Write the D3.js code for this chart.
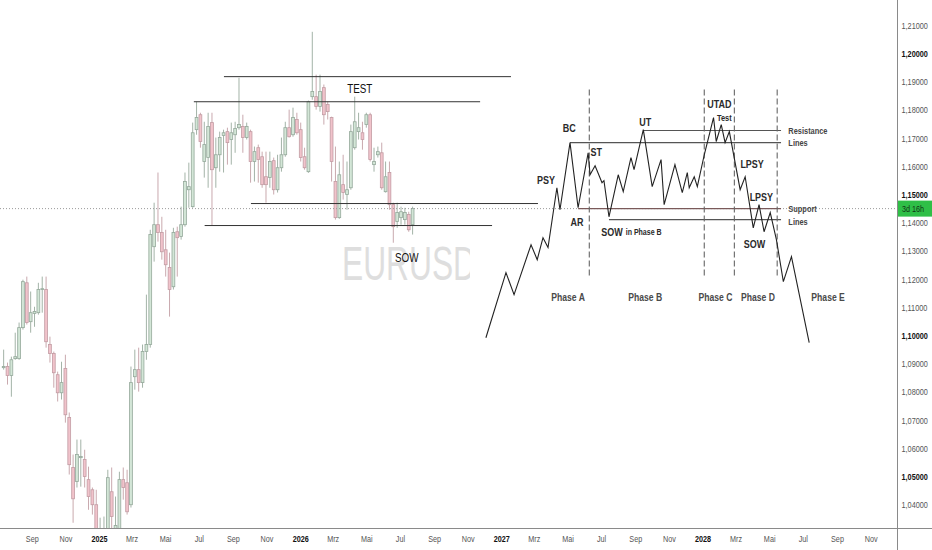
<!DOCTYPE html>
<html>
<head>
<meta charset="utf-8">
<script src="https://cdn.jsdelivr.net/npm/d3@7"></script>
<style>
  body { margin: 0; background: #fff; }
  svg { display: block; }
</style>
</head>
<body>
<div id="chart"></div>
<script>
// EURUSD weekly candles, first bar date
const firstBar = new Date(2024, 6, 12);

const opens = [
  1.0887, 1.0891, 1.0859, 1.0919, 1.0919, 1.1029, 1.1188, 1.1050, 1.1079, 1.1082,
  1.1164, 1.1164, 1.0969, 1.0937, 1.0862, 1.0798, 1.0884, 1.0710, 1.0533, 1.0483,
  1.0568, 1.0561, 1.0490, 1.0454, 1.0401, 1.0242, 1.0277, 1.0277, 1.0447, 1.0306,
  1.0295, 1.0490, 1.0479, 1.0401, 1.0855, 1.0880, 1.0834, 1.0944, 1.0969, 1.1316,
  1.1394, 1.1366, 1.1305, 1.1242, 1.1174, 1.1369, 1.1352, 1.1394, 1.1518, 1.1458,
  1.1731, 1.1784, 1.1618, 1.1632, 1.1756, 1.1596, 1.1642, 1.1710, 1.1724, 1.1696,
  1.1713, 1.1738, 1.1742, 1.1703, 1.1724, 1.1618, 1.1667, 1.1635, 1.1564, 1.1561,
  1.1621, 1.1518, 1.1596, 1.1642, 1.1738, 1.1713, 1.1767, 1.1731, 1.1635, 1.1582,
  1.1848, 1.1848, 1.1813, 1.1880, 1.1820, 1.1774, 1.1547, 1.1419, 1.1536, 1.1501,
  1.1525, 1.1667, 1.1724, 1.1720, 1.1749, 1.1784, 1.1607, 1.1642, 1.1649, 1.1511,
  1.1579, 1.1465, 1.1405, 1.1419, 1.1412, 1.1430, 1.1394
];
const highs = [
  1.0951, 1.0905, 1.0926, 1.1011, 1.1047, 1.1199, 1.1210, 1.1157, 1.1103, 1.1188,
  1.1210, 1.1210, 1.0997, 1.0944, 1.0873, 1.0908, 1.0933, 1.0728, 1.0579, 1.0632,
  1.0632, 1.0596, 1.0536, 1.0462, 1.0454, 1.0355, 1.0359, 1.0525, 1.0533, 1.0430,
  1.0518, 1.0533, 1.0525, 1.0891, 1.0951, 1.0958, 1.0969, 1.1146, 1.1376, 1.1472,
  1.1579, 1.1422, 1.1376, 1.1295, 1.1383, 1.1387, 1.1458, 1.1579, 1.1614, 1.1756,
  1.1830, 1.1791, 1.1759, 1.1791, 1.1791, 1.1703, 1.1724, 1.1731, 1.1738, 1.1756,
  1.1759, 1.1915, 1.1784, 1.1756, 1.1731, 1.1671, 1.1678, 1.1653, 1.1653, 1.1653,
  1.1632, 1.1642, 1.1703, 1.1759, 1.1802, 1.1809, 1.1791, 1.1756, 1.1667, 1.1834,
  1.2078, 1.1926, 1.1926, 1.1891, 1.1830, 1.1777, 1.1671, 1.1618, 1.1642, 1.1618,
  1.1749, 1.1848, 1.1791, 1.1759, 1.1791, 1.1791, 1.1667, 1.1671, 1.1685, 1.1618,
  1.1618, 1.1472, 1.1472, 1.1458, 1.1454, 1.1440, 1.1458
];
const lows = [
  1.0880, 1.0827, 1.0784, 1.0915, 1.0915, 1.1022, 1.1040, 1.1011, 1.1032, 1.1075,
  1.1082, 1.0958, 1.0905, 1.0816, 1.0767, 1.0774, 1.0692, 1.0508, 1.0337, 1.0462,
  1.0465, 1.0462, 1.0383, 1.0366, 1.0242, 1.0224, 1.0224, 1.0259, 1.0313, 1.0277,
  1.0277, 1.0419, 1.0366, 1.0391, 1.0809, 1.0802, 1.0816, 1.0915, 1.0958, 1.1263,
  1.1334, 1.1270, 1.1210, 1.1068, 1.1164, 1.1210, 1.1341, 1.1387, 1.1454, 1.1454,
  1.1713, 1.1667, 1.1561, 1.1525, 1.1391, 1.1525, 1.1582, 1.1579, 1.1607, 1.1607,
  1.1649, 1.1731, 1.1649, 1.1696, 1.1543, 1.1547, 1.1543, 1.1525, 1.1472, 1.1525,
  1.1501, 1.1508, 1.1582, 1.1635, 1.1703, 1.1706, 1.1713, 1.1618, 1.1589, 1.1578,
  1.1837, 1.1802, 1.1795, 1.1749, 1.1767, 1.1547, 1.1412, 1.1415, 1.1483, 1.1447,
  1.1518, 1.1660, 1.1696, 1.1660, 1.1738, 1.1618, 1.1582, 1.1632, 1.1518, 1.1508,
  1.1447, 1.1330, 1.1383, 1.1394, 1.1394, 1.1369, 1.1359
];
const closes = [
  1.0891, 1.0859, 1.0915, 1.0926, 1.1029, 1.1192, 1.1047, 1.1082, 1.1086, 1.1164,
  1.1167, 1.0979, 1.0937, 1.0869, 1.0798, 1.0834, 1.0720, 1.0543, 1.0422, 1.0579,
  1.0572, 1.0501, 1.0430, 1.0401, 1.0259, 1.0295, 1.0306, 1.0497, 1.0359, 1.0327,
  1.0490, 1.0462, 1.0376, 1.0834, 1.0880, 1.0834, 1.0944, 1.0969, 1.1359, 1.1394,
  1.1366, 1.1298, 1.1252, 1.1164, 1.1366, 1.1348, 1.1394, 1.1547, 1.1529, 1.1720,
  1.1774, 1.1689, 1.1678, 1.1742, 1.1589, 1.1642, 1.1703, 1.1720, 1.1685, 1.1720,
  1.1735, 1.1749, 1.1703, 1.1742, 1.1618, 1.1653, 1.1625, 1.1536, 1.1536, 1.1618,
  1.1518, 1.1596, 1.1642, 1.1738, 1.1706, 1.1774, 1.1720, 1.1632, 1.1596, 1.1830,
  1.1866, 1.1813, 1.1866, 1.1784, 1.1795, 1.1618, 1.1419, 1.1571, 1.1508, 1.1518,
  1.1724, 1.1759, 1.1738, 1.1696, 1.1784, 1.1625, 1.1618, 1.1653, 1.1525, 1.1564,
  1.1465, 1.1387, 1.1437, 1.1440, 1.1437, 1.1376, 1.1451
];

const lastPrice = 1.1451;
const countdown = "3d 16h";
const priceTicks = [1.04, 1.05, 1.06, 1.07, 1.08, 1.09, 1.10, 1.11, 1.12, 1.13,
                    1.14, 1.15, 1.16, 1.17, 1.18, 1.19, 1.20, 1.21];
const boldTicks = [1.05, 1.10, 1.15, 1.20];
const monthAbbr = ["Jan", "Feb", "Mrz", "Apr", "Mai", "Jun", "Jul", "Aug", "Sep", "Okt", "Nov", "Dez"];

// drawn levels on the real chart: [startBar, endBar, price]
const levels = [
  [57.1, 131.5, 1.1919],
  [49.3, 123.5, 1.1830],
  [64.1, 138.5, 1.1469],
  [52.1, 126.6, 1.1391]
];
// chart notes: [bar, price, text]
const notes = [
  [92.3, 1.1876, "TEST"],
  [104.5, 1.1277, "SOW"]
];

// Wyckoff distribution schematic, [bar, price]
const wyckoffPath = [
  [125.0, 1.0993], [130.2, 1.1224], [132.3, 1.1146], [136.7, 1.1323], [138.3, 1.1270],
  [139.8, 1.1348], [141.1, 1.1313], [143.4, 1.1525], [144.2, 1.1447], [146.8, 1.1685],
  [148.9, 1.1454], [151.5, 1.1649], [152.0, 1.1571], [153.3, 1.1603], [155.1, 1.1543],
  [155.6, 1.1550], [156.9, 1.1422], [159.3, 1.1571], [160.6, 1.1511], [162.6, 1.1632],
  [163.4, 1.1589], [165.8, 1.1731], [168.1, 1.1529], [170.4, 1.1625], [171.2, 1.1465],
  [174.0, 1.1607], [175.9, 1.1508], [177.2, 1.1579], [177.7, 1.1525], [179.0, 1.1564],
  [179.8, 1.1529], [181.6, 1.1642], [184.0, 1.1774], [184.7, 1.1689], [186.0, 1.1749],
  [187.0, 1.1685], [188.1, 1.1724], [190.9, 1.1518], [192.2, 1.1564], [194.3, 1.1383],
  [195.8, 1.1465], [197.1, 1.1369], [198.7, 1.1437], [200.3, 1.1341], [202.1, 1.1192],
  [204.2, 1.1281], [208.8, 1.0976]
];
// range lines: [startBar, endBar, price, kind]
const wyckoffLevels = [
  [165.8, 201.5, 1.1728, "res"],
  [146.8, 201.5, 1.1685, "res"],
  [148.9, 201.5, 1.1451, "sup"],
  [156.9, 201.5, 1.1412, "res"]
];
const phaseBars = [151.8, 181.6, 189.4, 200.5];
const phaseTop = 1.1873, phaseBottom = 1.1206;
// labels: [bar, price, text, size]
const wyckoffLabels = [
  [140.6, 1.1554, "PSY", 11.5], [146.6, 1.1738, "BC", 11.5], [153.6, 1.1653, "ST", 11.5],
  [148.6, 1.1405, "AR", 11.5], [166.3, 1.1759, "UT", 11.5], [185.5, 1.1823, "UTAD", 11.5],
  [186.8, 1.1774, "Test", 9.5], [194.0, 1.1610, "LPSY", 11.5], [196.4, 1.1493, "LPSY", 11.5],
  [194.6, 1.1327, "SOW", 11.5]
];
const sideLabels = [
  [203.4, 1.1728, "Resistance"], [203.4, 1.1685, "Lines"],
  [203.4, 1.1451, "Support"], [203.4, 1.1405, "Lines"]
];
const phaseLabels = [
  [146.3, "Phase A"], [166.3, "Phase B"], [184.5, "Phase C"], [195.5, "Phase D"], [213.7, "Phase E"]
];
const phaseLabelPrice = 1.1135;

const width = 932, height = 550;
const plotRight = 897, plotBottom = 528;
const WEEK = 7 * 24 * 3600 * 1000;
const barDate = b => new Date(firstBar.getTime() + b * WEEK);

const x = d3.scaleTime()
  .domain([new Date(2025, 0, 1), new Date(2028, 0, 1)])
  .range([99, 702.5]);
const y = d3.scaleLinear()
  .domain([1.04, 1.21])
  .range([505, 25.6]);
const bx = b => x(barDate(b));

const sans = '"Liberation Sans", Arial, sans-serif';

// squeeze a text horizontally (no narrow face installed)
function condense(sel, k) {
  sel.each(function () {
    const w = this.getComputedTextLength();
    d3.select(this).attr("textLength", w * k).attr("lengthAdjust", "spacingAndGlyphs");
  });
}

const svg = d3.select("#chart").append("svg")
  .attr("width", width)
  .attr("height", height);

svg.append("rect").attr("width", width).attr("height", height).attr("fill", "#fff");

const defs = svg.append("defs");
defs.append("clipPath").attr("id", "plot")
  .append("rect").attr("width", plotRight).attr("height", plotBottom);
defs.append("clipPath").attr("id", "wm")
  .append("rect").attr("width", 470).attr("height", plotBottom);

const plot = svg.append("g").attr("clip-path", "url(#plot)");

// watermark (partly hidden behind the pasted schematic)
plot.append("text")
  .attr("clip-path", "url(#wm)")
  .attr("x", 342).attr("y", 280)
  .attr("textLength", 134).attr("lengthAdjust", "spacingAndGlyphs")
  .attr("font-family", sans)
  .attr("font-size", 49)
  .attr("fill", "#dedede")
  .text("EURUSD");

// candles
const candles = opens.map((o, i) => ({
  date: barDate(i), open: o, high: highs[i], low: lows[i], close: closes[i]
}));
const up = d => d.close >= d.open;

const cg = plot.append("g").selectAll("g").data(candles).join("g");
cg.append("line")
  .attr("x1", d => x(d.date)).attr("x2", d => x(d.date))
  .attr("y1", d => y(d.high)).attr("y2", d => y(d.low))
  .attr("stroke", d => up(d) ? "#a3b3a7" : "#c9a9ae")
  .attr("stroke-width", 1);
cg.append("rect")
  .attr("x", d => x(d.date) - 1.4)
  .attr("width", 2.8)
  .attr("y", d => y(Math.max(d.open, d.close)))
  .attr("height", d => Math.max(0.8, Math.abs(y(d.open) - y(d.close))))
  .attr("fill", d => up(d) ? "#d3e6d7" : "#f1c3cb")
  .attr("stroke", d => up(d) ? "#95a99b" : "#c29ca3")
  .attr("stroke-width", 0.8);

// last price line
plot.append("line")
  .attr("x1", 0).attr("x2", plotRight)
  .attr("y1", y(lastPrice)).attr("y2", y(lastPrice))
  .attr("stroke", "#9a9a9a").attr("stroke-dasharray", "1,2");

// levels drawn on the chart
plot.append("g").selectAll("line").data(levels).join("line")
  .attr("x1", d => bx(d[0])).attr("x2", d => bx(d[1]))
  .attr("y1", d => y(d[2])).attr("y2", d => y(d[2]))
  .attr("stroke", "#333").attr("stroke-width", 1);

plot.append("g").selectAll("text").data(notes).join("text")
  .attr("x", d => bx(d[0])).attr("y", d => y(d[1]))
  .attr("dy", "0.35em")
  .attr("text-anchor", "middle")
  .attr("font-family", sans)
  .attr("font-size", 12)
  .attr("fill", "#111")
  .text(d => d[2])
  .call(condense, 0.82);

// schematic
const wg = plot.append("g");
wg.selectAll("line.lvl").data(wyckoffLevels).join("line")
  .attr("class", "lvl")
  .attr("x1", d => bx(d[0])).attr("x2", d => bx(d[1]))
  .attr("y1", d => y(d[2])).attr("y2", d => y(d[2]))
  .attr("stroke", d => d[3] === "sup" ? "#7a5a5a" : "#555")
  .attr("stroke-width", 1.2);
wg.selectAll("line.ph").data(phaseBars).join("line")
  .attr("class", "ph")
  .attr("x1", d => bx(d)).attr("x2", d => bx(d))
  .attr("y1", y(phaseTop)).attr("y2", y(phaseBottom))
  .attr("stroke", "#666").attr("stroke-width", 1.1)
  .attr("stroke-dasharray", "6,3");
wg.append("path")
  .datum(wyckoffPath)
  .attr("d", d3.line().x(d => bx(d[0])).y(d => y(d[1])))
  .attr("fill", "none")
  .attr("stroke", "#222")
  .attr("stroke-width", 1.1);

wg.selectAll("text.lbl").data(wyckoffLabels).join("text")
  .attr("class", "lbl")
  .attr("x", d => bx(d[0])).attr("y", d => y(d[1]))
  .attr("dy", "0.35em").attr("text-anchor", "middle")
  .attr("font-family", sans).attr("font-weight", "bold")
  .attr("font-size", d => d[3])
  .attr("fill", "#2a2a2a")
  .text(d => d[2])
  .call(condense, 0.78);

const sowX = bx(154.9), sowY = y(1.1369);
const sowMain = wg.append("text")
  .attr("x", sowX).attr("y", sowY).attr("dy", "0.35em")
  .attr("font-family", sans).attr("font-weight", "bold")
  .attr("font-size", 11.5).attr("fill", "#2a2a2a")
  .text("SOW")
  .call(condense, 0.78);
wg.append("text")
  .attr("x", sowX + +sowMain.attr("textLength") + 3).attr("y", sowY).attr("dy", "0.35em")
  .attr("font-family", sans).attr("font-weight", "bold")
  .attr("font-size", 9).attr("fill", "#2a2a2a")
  .text("in Phase B")
  .call(condense, 0.78);

wg.selectAll("text.side").data(sideLabels).join("text")
  .attr("class", "side")
  .attr("x", d => bx(d[0])).attr("y", d => y(d[1]))
  .attr("dy", "0.35em")
  .attr("font-family", sans).attr("font-weight", "bold")
  .attr("font-size", 9.5)
  .attr("fill", "#444")
  .text(d => d[2])
  .call(condense, 0.78);

wg.selectAll("text.phase").data(phaseLabels).join("text")
  .attr("class", "phase")
  .attr("x", d => bx(d[0])).attr("y", y(phaseLabelPrice))
  .attr("dy", "0.35em").attr("text-anchor", "middle")
  .attr("font-family", sans).attr("font-weight", "bold")
  .attr("font-size", 10.5)
  .attr("fill", "#4a4a4a")
  .text(d => d[1])
  .call(condense, 0.82);

// price axis
const isBold = d => boldTicks.some(b => Math.abs(b - d) < 1e-6);
const yAxis = svg.append("g")
  .attr("transform", `translate(${plotRight},0)`)
  .call(d3.axisRight(y)
    .tickValues(priceTicks)
    .tickSize(0)
    .tickPadding(4.5)
    .tickFormat(d => d3.format(".5f")(d).replace(".", ",")));
yAxis.select(".domain").remove();
yAxis.selectAll("text")
  .attr("font-family", sans)
  .attr("font-size", 8.5)
  .attr("fill", d => isBold(d) ? "#111" : "#555")
  .attr("font-weight", d => isBold(d) ? "bold" : "normal")
  .call(condense, 0.86);

// time axis
const monthTicks = d3.timeMonth.every(2).range(x.invert(8), x.invert(plotRight - 8));
const xAxis = svg.append("g")
  .attr("transform", `translate(0,${plotBottom})`)
  .call(d3.axisBottom(x)
    .tickValues(monthTicks)
    .tickSize(0)
    .tickPadding(7)
    .tickFormat(d => d.getMonth() === 0 ? String(d.getFullYear()) : monthAbbr[d.getMonth()]));
xAxis.select(".domain").remove();
xAxis.selectAll("text")
  .attr("font-family", sans)
  .attr("font-size", 9.5)
  .attr("fill", d => d.getMonth() === 0 ? "#111" : "#555")
  .attr("font-weight", d => d.getMonth() === 0 ? "bold" : "normal")
  .call(condense, 0.76);

// axis borders
svg.append("line")
  .attr("x1", 0).attr("x2", width)
  .attr("y1", plotBottom + 0.5).attr("y2", plotBottom + 0.5)
  .attr("stroke", "#8a8a8a");
svg.append("line")
  .attr("x1", plotRight + 0.5).attr("x2", plotRight + 0.5)
  .attr("y1", 0).attr("y2", height)
  .attr("stroke", "#8a8a8a");

// last price tag
svg.append("rect")
  .attr("x", plotRight + 1).attr("y", y(lastPrice) - 8)
  .attr("width", width - plotRight - 1).attr("height", 16)
  .attr("fill", "#2fbf47");
svg.append("text")
  .attr("x", plotRight + 5).attr("y", y(lastPrice))
  .attr("dy", "0.35em")
  .attr("font-family", sans)
  .attr("font-size", 8.5)
  .attr("fill", "#0f3315")
  .text(countdown)
  .call(condense, 0.85);
</script>
</body>
</html>
